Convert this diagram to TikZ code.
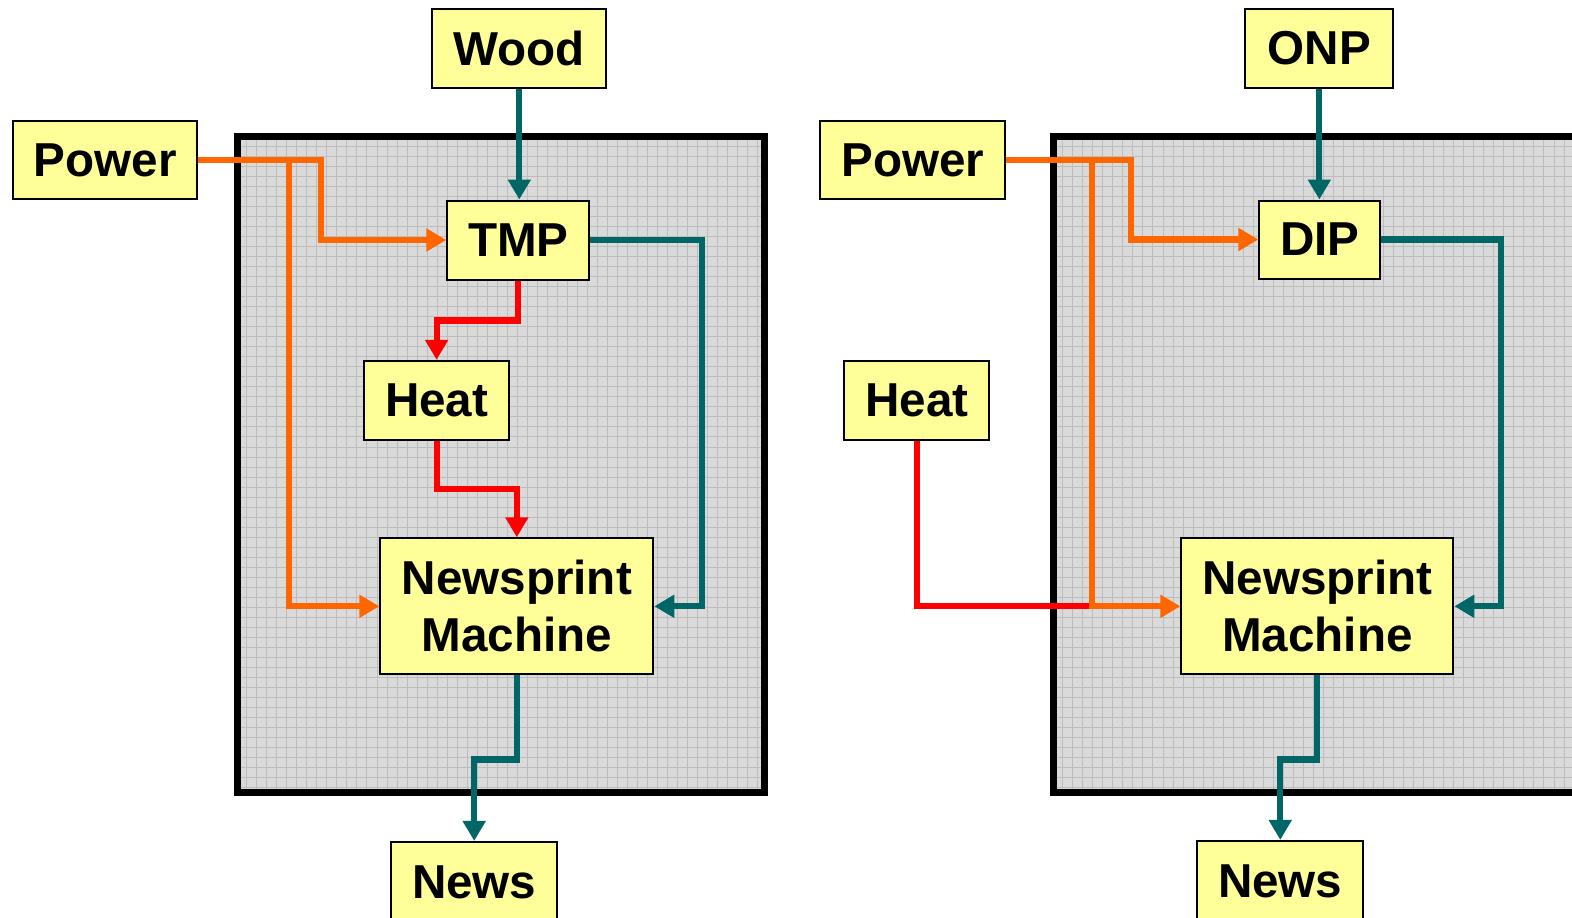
\documentclass[tikz,border=0pt]{standalone}
\usepackage{fontspec}
\setmainfont{Liberation Sans}
\usetikzlibrary{arrows.meta}
\definecolor{boxyellow}{HTML}{FFFF99}
\definecolor{orng}{HTML}{FF6600}
\definecolor{tealc}{HTML}{006666}
\definecolor{redc}{HTML}{FF0000}
\definecolor{bgray}{HTML}{DADADA}
\definecolor{lgray}{HTML}{BDBDBD}
\tikzset{
  lbl/.style={draw=black, line width=1pt, fill=boxyellow, inner sep=0pt, align=center,
    font=\fontsize{23.8}{28.5}\selectfont\bfseries},
  conn/.style={line width=3.1pt, -{Triangle[length=10pt,width=11pt]}},
  plain/.style={line width=3.1pt},
  ornc/.style={conn, draw=orng},
  tlc/.style={conn, draw=tealc},
  rdc/.style={conn, draw=redc},
  gridline/.style={draw=lgray, line width=0.45pt},
  frame/.style={draw=black, line width=3.6pt},
}
\begin{document}
\begin{tikzpicture}[x=0.5013pt,y=-0.5011pt]
\clip (0,0) rectangle (1568,916);
\fill[white] (0,0) rectangle (1568,916);
% left frame
\fill[bgray] (236.5,136.5) rectangle (762.5,790.5);
\foreach \x in {246,256,...,756} \draw[gridline] (\x,137) -- (\x,790);
\foreach \y in {146,156,...,786} \draw[gridline] (237,\y) -- (762,\y);
\draw[frame] (236.5,136.5) rectangle (762.5,790.5);
% right frame
\fill[bgray] (1050.5,136.5) rectangle (1600,790.5);
\foreach \x in {1060,1070,...,1580} \draw[gridline] (\x,137) -- (\x,790);
\foreach \y in {146,156,...,786} \draw[gridline] (1051,\y) -- (1590,\y);
\draw[frame] (1050.5,136.5) rectangle (1600,790.5);

% left nodes
\node[lbl, minimum width=87pt, minimum height=39.5pt] (wood) at (518,48.5) {Wood};
\node[lbl, minimum width=92pt, minimum height=39pt] (pwL) at (105,160) {Power};
\node[lbl, minimum width=71pt, minimum height=39.5pt] (tmp) at (517,239.5) {TMP};
\node[lbl, minimum width=72.5pt, minimum height=39.5pt] (heatL) at (435.5,399.5) {Heat};
\node[lbl, minimum width=136.5pt, minimum height=68pt] (nmL) at (515.5,605) {Newsprint\\Machine};
\node[lbl, minimum width=83pt, minimum height=40pt] (newsL) at (473,880) {News};
% right nodes
\node[lbl, minimum width=74pt, minimum height=39.5pt] (onp) at (1316,48.5) {ONP};
\node[lbl, minimum width=92.5pt, minimum height=39pt] (pwR) at (910.5,160) {Power};
\node[lbl, minimum width=60.5pt, minimum height=39pt] (dip) at (1316.5,239) {DIP};
\node[lbl, minimum width=72.5pt, minimum height=39.5pt] (heatR) at (914.5,399.5) {Heat};
\node[lbl, minimum width=136pt, minimum height=68pt] (nmR) at (1314,605) {Newsprint\\Machine};
\node[lbl, minimum width=83pt, minimum height=40pt] (newsR) at (1277,879) {News};

% left connectors
\draw[ornc] (pwL.east) -- (288,160) |- (nmL.west);
\draw[ornc] (pwL.east) -- (320,160) |- (tmp.west);
\draw[tlc] (wood.south) -- (wood.south |- tmp.north);
\draw[rdc] (tmp.south) -- ++(0,40) -| (heatL.north);
\draw[rdc] (heatL.south) -- ++(0,48) -| (nmL.north);
\draw[tlc] (tmp.east) -- (700,239.5) |- (nmL.east);
\draw[tlc] (nmL.south) -- ++(0,84) -| (newsL.north);

% right connectors
\coordinate (jR) at (1089,605);
\draw[plain, draw=redc] (heatR.south) |- (jR);
\draw[ornc] (pwR.east) -- (1089,160) |- (nmR.west);
\draw[ornc] (pwR.east) -- (1128,160) |- (dip.west);
\draw[tlc] (onp.south) -- (onp.south |- dip.north);
\draw[tlc] (dip.east) -- (1497,239) |- (nmR.east);
\draw[tlc] (nmR.south) -- ++(0,84) -| (newsR.north);
\end{tikzpicture}
\end{document}
